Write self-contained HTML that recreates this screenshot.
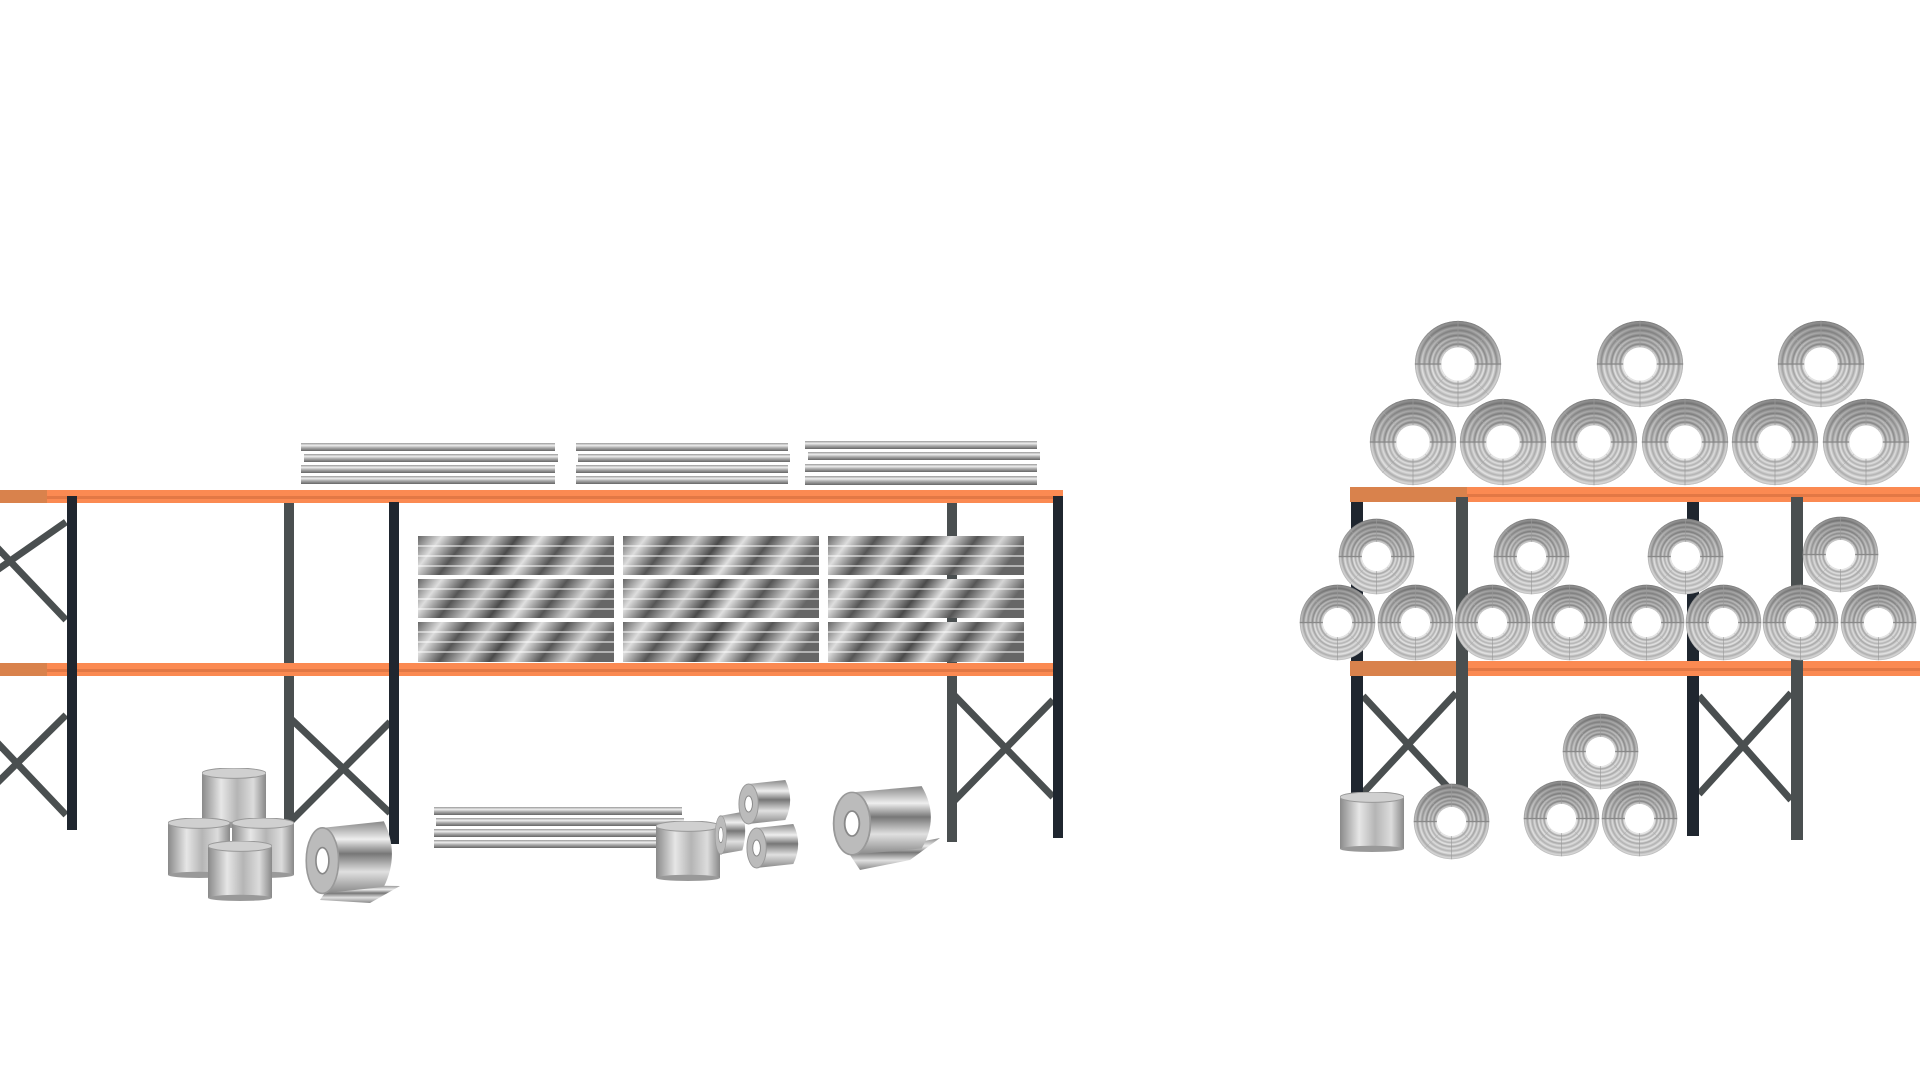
<!DOCTYPE html>
<html><head><meta charset="utf-8"><style>html,body{margin:0;padding:0;background:#fff;width:1920px;height:1080px;overflow:hidden}</style></head>
<body>
<svg width="1920" height="1080" viewBox="0 0 1920 1080" xmlns="http://www.w3.org/2000/svg">
<defs>
<radialGradient id="coilg" cx="50%" cy="50%" r="50%">
<stop offset="0.36" stop-color="#b0b0b0"/><stop offset="0.41" stop-color="#e8e8e8"/><stop offset="0.46" stop-color="#8c8c8c"/>
<stop offset="0.51" stop-color="#d8d8d8"/><stop offset="0.56" stop-color="#9a9a9a"/><stop offset="0.61" stop-color="#e0e0e0"/>
<stop offset="0.66" stop-color="#8a8a8a"/><stop offset="0.72" stop-color="#d5d5d5"/><stop offset="0.78" stop-color="#979797"/>
<stop offset="0.84" stop-color="#dcdcdc"/><stop offset="0.90" stop-color="#8e8e8e"/><stop offset="0.96" stop-color="#c8c8c8"/><stop offset="1" stop-color="#9c9c9c"/>
</radialGradient>
<linearGradient id="coilshade" x1="0" y1="0" x2="0" y2="1">
<stop offset="0" stop-color="#444" stop-opacity="0.45"/><stop offset="0.5" stop-color="#888" stop-opacity="0.1"/><stop offset="0.52" stop-color="#fff" stop-opacity="0.15"/><stop offset="1" stop-color="#fff" stop-opacity="0.3"/>
</linearGradient>
<symbol id="coil" viewBox="-50 -50 100 100">
<circle r="49" fill="url(#coilg)"/>
<circle r="49" fill="url(#coilshade)"/>
<line x1="-49" y1="0" x2="49" y2="0" stroke="#888" stroke-width="1.5"/>
<line x1="0" y1="-49" x2="0" y2="49" stroke="#999" stroke-width="0.8"/>
<line x1="-35" y1="-35" x2="35" y2="35" stroke="#aaa" stroke-width="0.5"/>
<line x1="35" y1="-35" x2="-35" y2="35" stroke="#aaa" stroke-width="0.5"/>
<circle r="19" fill="#fff"/>
</symbol>
<linearGradient id="sheet" x1="0" y1="0" x2="1" y2="0.15">
<stop offset="0" stop-color="#666"/><stop offset="0.12" stop-color="#ddd"/><stop offset="0.25" stop-color="#555"/><stop offset="0.38" stop-color="#ccc"/>
<stop offset="0.5" stop-color="#4a4a4a"/><stop offset="0.62" stop-color="#e0e0e0"/><stop offset="0.75" stop-color="#555"/><stop offset="0.88" stop-color="#d5d5d5"/><stop offset="1" stop-color="#666"/>
</linearGradient>
<linearGradient id="board" x1="0" y1="0" x2="0" y2="1">
<stop offset="0" stop-color="#999"/><stop offset="0.3" stop-color="#eee"/><stop offset="0.6" stop-color="#aaa"/><stop offset="1" stop-color="#666"/>
</linearGradient>
<linearGradient id="cyl" x1="0" y1="0" x2="1" y2="0">
<stop offset="0" stop-color="#8a8a8a"/><stop offset="0.3" stop-color="#e6e6e6"/><stop offset="0.55" stop-color="#b5b5b5"/><stop offset="0.8" stop-color="#dcdcdc"/><stop offset="1" stop-color="#888"/>
</linearGradient>
<linearGradient id="roll" x1="0" y1="0" x2="0" y2="1">
<stop offset="0" stop-color="#888"/><stop offset="0.25" stop-color="#eee"/><stop offset="0.45" stop-color="#777"/><stop offset="0.7" stop-color="#e0e0e0"/><stop offset="1" stop-color="#888"/>
</linearGradient>
<symbol id="cylinder" viewBox="0 0 64 58" preserveAspectRatio="none">
<rect x="0" y="5" width="64" height="50" fill="url(#cyl)"/>
<ellipse cx="32" cy="55" rx="32" ry="3" fill="#999"/>
<ellipse cx="32" cy="5" rx="32" ry="5" fill="#d0d0d0" stroke="#999" stroke-width="1"/>
</symbol>
<symbol id="rollsym" viewBox="0 0 60 50" preserveAspectRatio="none">
<path d="M12 6 L50 2 Q60 22 50 42 L12 46 Z" fill="url(#roll)"/>
<ellipse cx="12" cy="26" rx="10" ry="20" fill="#bbb" stroke="#999"/>
<ellipse cx="12" cy="26" rx="4" ry="8" fill="#fff" stroke="#888"/>
</symbol>
</defs>

<g>
<g stroke="#4a4f50" stroke-width="7" fill="none">
<line x1="66" y1="522" x2="-10" y2="575"/><line x1="-10" y1="540" x2="66" y2="620"/>
<line x1="66" y1="715" x2="-10" y2="790"/><line x1="-10" y1="735" x2="66" y2="815"/>
<line x1="289" y1="717" x2="390" y2="813"/><line x1="390" y1="722" x2="289" y2="823"/>
<line x1="952" y1="693" x2="1053" y2="797"/><line x1="1053" y1="700" x2="952" y2="803"/>
</g>
<rect x="284" y="500" width="10" height="330" fill="#4a4f50"/>
<rect x="947" y="500" width="10" height="342" fill="#4a4f50"/>
<rect x="0" y="490" width="1063" height="13" fill="#fb8a52"/>
<rect x="0" y="496" width="1063" height="3" fill="#e27845"/>
<rect x="0" y="490" width="47" height="13" fill="#d9824c"/>
<rect x="0" y="663" width="1053" height="13" fill="#fb8a52"/>
<rect x="0" y="669" width="1053" height="3" fill="#e27845"/>
<rect x="0" y="663" width="47" height="13" fill="#d9824c"/>
<rect x="67" y="496" width="10" height="334" fill="#1f262f"/>
<rect x="389" y="502" width="10" height="342" fill="#1f262f"/>
<rect x="1053" y="496" width="10" height="342" fill="#1f262f"/>
<g fill="url(#board)">
<rect x="301" y="443" width="254" height="8"/><rect x="304" y="454" width="254" height="8"/><rect x="301" y="465" width="254" height="8"/><rect x="301" y="476" width="254" height="8"/>
<rect x="576" y="443" width="212" height="8"/><rect x="578" y="454" width="212" height="8"/><rect x="576" y="465" width="212" height="8"/><rect x="576" y="476" width="212" height="8"/>
<rect x="805" y="441" width="232" height="8"/><rect x="808" y="452" width="232" height="8"/><rect x="805" y="464" width="232" height="8"/><rect x="805" y="476" width="232" height="9"/>
</g>
<g>
<g id="stk">
<rect x="418" y="536" width="196" height="39" fill="url(#sheet)"/>
<rect x="418" y="579" width="196" height="39" fill="url(#sheet)"/>
<rect x="418" y="622" width="196" height="40" fill="url(#sheet)"/>
<g stroke="#fff" stroke-width="1.2" opacity="0.8">
<line x1="418" y1="546" x2="614" y2="546"/><line x1="418" y1="556" x2="614" y2="556"/><line x1="418" y1="566" x2="614" y2="566"/>
<line x1="418" y1="589" x2="614" y2="589"/><line x1="418" y1="599" x2="614" y2="599"/><line x1="418" y1="609" x2="614" y2="609"/>
<line x1="418" y1="632" x2="614" y2="632"/><line x1="418" y1="642" x2="614" y2="642"/><line x1="418" y1="652" x2="614" y2="652"/>
</g>
</g>
<use href="#stk" x="205"/>
<use href="#stk" x="410"/>
</g>
<use href="#cylinder" x="202" y="768" width="64" height="60"/>
<use href="#cylinder" x="168" y="818" width="62" height="60"/>
<use href="#cylinder" x="232" y="818" width="62" height="60"/>
<use href="#cylinder" x="208" y="841" width="64" height="60"/>
<path d="M330 885 L400 886 L370 903 L320 900 Z" fill="url(#roll)"/>
<use href="#rollsym" x="303" y="818" width="97" height="82"/>
<g fill="url(#board)">
<rect x="434" y="807" width="248" height="8"/><rect x="436" y="818" width="248" height="8"/><rect x="434" y="829" width="248" height="8"/><rect x="434" y="840" width="248" height="8"/>
</g>
<use href="#cylinder" x="656" y="821" width="64" height="60"/>
<use href="#rollsym" x="714" y="810" width="34" height="48"/>
<use href="#rollsym" x="737" y="778" width="58" height="50"/>
<use href="#rollsym" x="745" y="822" width="58" height="50"/>
<path d="M850 855 L940 838 L910 860 L860 870 Z" fill="url(#roll)"/>
<use href="#rollsym" x="830" y="783" width="110" height="78"/>
</g>

<g>
<g stroke="#4a4f50" stroke-width="7" fill="none">
<line x1="1363" y1="696" x2="1456" y2="796"/><line x1="1456" y1="693" x2="1363" y2="793"/>
<line x1="1699" y1="696" x2="1791" y2="800"/><line x1="1791" y1="693" x2="1699" y2="794"/>
</g>
<rect x="1351" y="500" width="12" height="296" fill="#1f262f"/>
<rect x="1687" y="500" width="12" height="336" fill="#1f262f"/>
<rect x="1350" y="487" width="570" height="15" fill="#fb8a52"/>
<rect x="1350" y="494" width="570" height="3" fill="#e27845"/>
<rect x="1350" y="487" width="117" height="15" fill="#d9824c"/>
<rect x="1350" y="661" width="570" height="15" fill="#fb8a52"/>
<rect x="1350" y="668" width="570" height="3" fill="#e27845"/>
<rect x="1350" y="661" width="106" height="15" fill="#d9824c"/>
<rect x="1456" y="497" width="12" height="300" fill="#4a4f50"/>
<rect x="1791" y="497" width="12" height="343" fill="#4a4f50"/>
<g>
<use href="#coil" x="1369" y="398" width="88" height="88"/>
<use href="#coil" x="1459" y="398" width="88" height="88"/>
<use href="#coil" x="1550" y="398" width="88" height="88"/>
<use href="#coil" x="1641" y="398" width="88" height="88"/>
<use href="#coil" x="1731" y="398" width="88" height="88"/>
<use href="#coil" x="1822" y="398" width="88" height="88"/>
<use href="#coil" x="1414" y="320" width="88" height="88"/>
<use href="#coil" x="1596" y="320" width="88" height="88"/>
<use href="#coil" x="1777" y="320" width="88" height="88"/>
</g>
<g>
<use href="#coil" x="1299" y="584" width="77" height="77"/>
<use href="#coil" x="1377" y="584" width="77" height="77"/>
<use href="#coil" x="1454" y="584" width="77" height="77"/>
<use href="#coil" x="1531" y="584" width="77" height="77"/>
<use href="#coil" x="1608" y="584" width="77" height="77"/>
<use href="#coil" x="1685" y="584" width="77" height="77"/>
<use href="#coil" x="1762" y="584" width="77" height="77"/>
<use href="#coil" x="1840" y="584" width="77" height="77"/>
<use href="#coil" x="1338" y="518" width="77" height="77"/>
<use href="#coil" x="1493" y="518" width="77" height="77"/>
<use href="#coil" x="1647" y="518" width="77" height="77"/>
<use href="#coil" x="1802" y="516" width="77" height="77"/>
</g>
<use href="#cylinder" x="1340" y="792" width="64" height="60"/>
<use href="#coil" x="1413" y="783" width="77" height="77"/>
<use href="#coil" x="1562" y="713" width="77" height="77"/>
<use href="#coil" x="1523" y="780" width="77" height="77"/>
<use href="#coil" x="1601" y="780" width="77" height="77"/>
</g>
</svg>
</body></html>
